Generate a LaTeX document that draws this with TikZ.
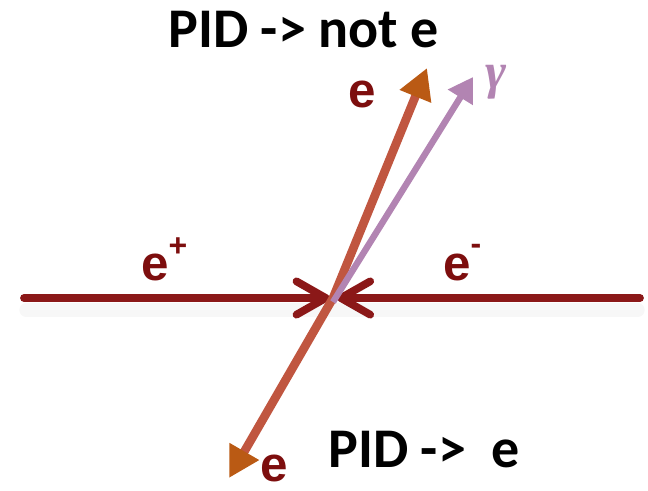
\documentclass[tikz,border=0pt]{standalone}
\usepackage{fontspec}
\setmainfont{Liberation Sans}
\newfontfamily\carlfont{Carlito}
\newfontfamily\arialfont{Liberation Sans}
\newfontfamily\gamfont{Liberation Serif}
\usetikzlibrary{arrows.meta}
\definecolor{beamc}{RGB}{139,24,24}
\definecolor{labc}{RGB}{125,14,14}
\definecolor{trackc}{RGB}{192,86,64}
\definecolor{headc}{RGB}{186,90,20}
\definecolor{gamc}{RGB}{178,132,178}
\tikzset{
  beam/.style={draw=beamc, line width=5.8pt, line cap=round, line join=round,
    -{Straight Barb[length=22pt,width=25pt,line cap=round,line join=round]}},
  etrack/.style={draw=trackc, line width=6.5pt, line join=round},
  gtrack/.style={draw=gamc, line width=4.8pt},
  plab/.style={text=labc, font=\arialfont\bfseries\fontsize{37}{40}\selectfont, inner sep=0pt, anchor=base west},
  pid/.style={text=black, font=\carlfont\bfseries\fontsize{42}{46}\selectfont, inner sep=0pt, anchor=base west},
}
\begin{document}
\begin{tikzpicture}[x=0.75pt,y=-0.75pt]
\useasboundingbox (0,0) rectangle (648,490);
% coordinates
\coordinate (C) at (333,298);
\coordinate (L) at (24,298);
\coordinate (R) at (640,298);
\coordinate (Etop) at (427,68);
\coordinate (Ebot) at (229,478);
\coordinate (Gtop) at (473,77);
% faint shadow under beam
\draw[black!3, line width=10pt, line cap=round] (26,310) -- (638,310);
% beams
\draw[beam] (L) -- ([xshift=-2.5pt]C);
\draw[beam] (R) -- ([xshift=3pt]C);
% electron track
\draw[etrack,
  {Triangle[length=23pt,width=24pt,color=headc,fill=headc]}-{Triangle[length=23pt,width=24pt,color=headc,fill=headc]}]
  (Ebot) -- (C) -- (Etop);
% photon track
\draw[gtrack, -{Triangle[length=18pt,width=21pt,color=gamc,fill=gamc]}] ([yshift=-3pt]C) -- (Gtop);
% labels
\node[plab] (ep) at (141,280) {e\raisebox{18pt}{\fontsize{24}{26}\selectfont +}};
\node[plab] (em) at (443,280) {e\raisebox{19pt}{\fontsize{24}{26}\selectfont -}};
\node[plab] (etop) at (348,107) {e};
\node[plab] (ebot) at (260,481) {e};
\node[text=gamc, inner sep=0pt, anchor=base west, font=\gamfont\itshape\bfseries\fontsize{38}{40}\selectfont] (gam) at (485,88) {γ};
\node[pid] (pidtop) at (168,47) {PID -> not e};
\node[pid] (pidbot) at (328,467) {PID ->\hspace{0.45em}e};
\end{tikzpicture}
\end{document}
